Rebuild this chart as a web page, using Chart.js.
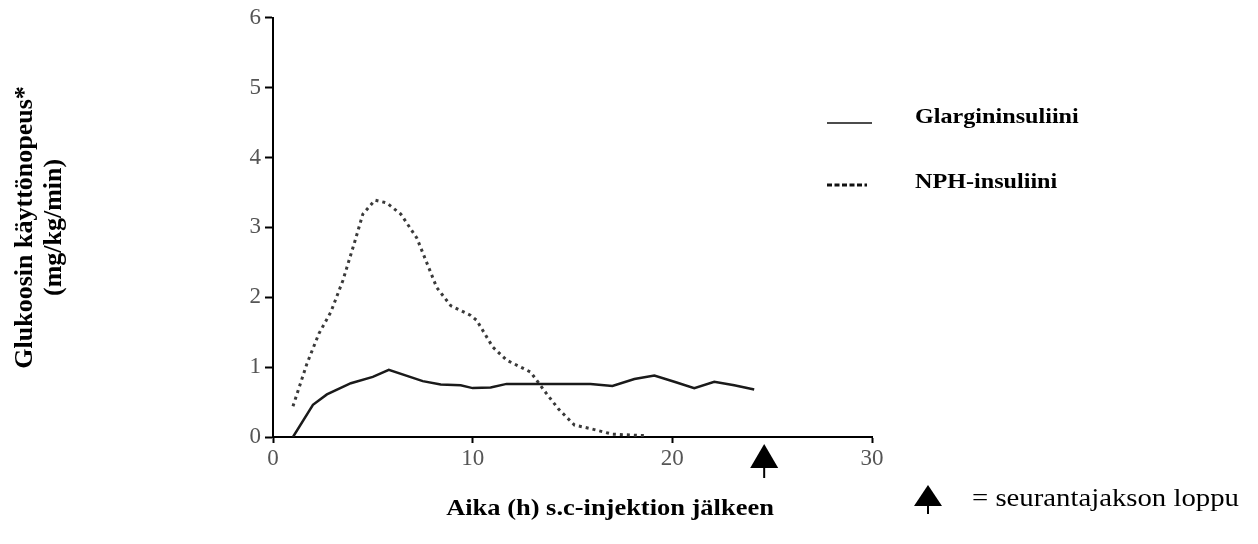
<!DOCTYPE html>
<html lang="fi">
<head>
<meta charset="utf-8">
<title>Glukoosin käyttönopeus</title>
<script src="https://cdn.jsdelivr.net/npm/chart.js@4/dist/chart.umd.min.js"></script>
<style>
    html, body { margin: 0; padding: 0; background: #ffffff; }
    #wrap { position: relative; width: 1258px; height: 544px; }
</style>
</head>
<body>
<div id="wrap"><canvas id="glucoseChart"></canvas></div>
<script>
// Data
const glargineHours = [1, 2, 2.7, 3.9, 5, 5.8, 7.5, 8.4, 9.4, 10, 10.9, 11.7, 13.4, 15.9, 17, 18.1, 19.1, 20.1, 21.1, 22.1, 23.1, 24.1];
const glargineRate = [0, 0.46, 0.61, 0.77, 0.86, 0.96, 0.8, 0.75, 0.74, 0.7, 0.71, 0.76, 0.76, 0.76, 0.73, 0.83, 0.88, 0.79, 0.7, 0.79, 0.74, 0.68];
const nphHours = [1, 1.7, 2.3, 2.9, 3.5, 4.1, 4.5, 5.1, 5.7, 6.4, 7.2, 8.2, 8.9, 9.9, 10.2, 11, 11.7, 12.9, 13.7, 14.3, 15.1, 15.9, 17, 18.6];
const nphRate = [0.44, 1.05, 1.48, 1.79, 2.24, 2.8, 3.19, 3.39, 3.35, 3.19, 2.85, 2.14, 1.88, 1.74, 1.67, 1.29, 1.1, 0.93, 0.62, 0.4, 0.17, 0.12, 0.04, 0.02];
const seriesLabels = ['Glargininsuliini', 'NPH-insuliini'];
const followUpEnd = 24.6;
const xTicks = [0, 10, 20, 30];
const yTicks = [0, 1, 2, 3, 4, 5, 6];

const SERIF = '"Liberation Serif", "Times New Roman", serif';

// horizontally stretched text, like the scanned original
const drawText = (ctx, text, x, y, font, align, sx) => {
    ctx.save();
    ctx.font = font;
    ctx.fillStyle = '#000';
    ctx.textAlign = align;
    ctx.textBaseline = 'middle';
    ctx.translate(x, y);
    ctx.scale(sx, 1);
    ctx.fillText(text, 0, 0);
    ctx.restore();
};

const drawArrow = (ctx, cx, top, h, halfW, stem) => {
    ctx.save();
    ctx.fillStyle = '#000';
    ctx.beginPath();
    ctx.moveTo(cx, top);
    ctx.lineTo(cx + halfW, top + h);
    ctx.lineTo(cx - halfW, top + h);
    ctx.closePath();
    ctx.fill();
    ctx.strokeStyle = '#000';
    ctx.lineWidth = 2;
    ctx.beginPath();
    ctx.moveTo(cx, top + h);
    ctx.lineTo(cx, top + h + stem);
    ctx.stroke();
    ctx.restore();
};

const annotations = {
    id: 'annotations',
    afterDraw(chart) {
        const { ctx, scales: { x } } = chart;
        const sx = 1.15;

        // legend
        ctx.save();
        ctx.strokeStyle = '#111';
        ctx.lineWidth = 1.5;
        ctx.beginPath();
        ctx.moveTo(827, 123);
        ctx.lineTo(872, 123);
        ctx.stroke();
        ctx.lineWidth = 3;
        ctx.setLineDash([5, 2.5]);
        ctx.beginPath();
        ctx.moveTo(827, 185);
        ctx.lineTo(867, 185);
        ctx.stroke();
        ctx.restore();
        drawText(ctx, seriesLabels[0], 915, 118, 'bold 21px ' + SERIF, 'left', sx);
        drawText(ctx, seriesLabels[1], 915, 183, 'bold 21px ' + SERIF, 'left', sx);

        // end of follow-up marker
        drawArrow(ctx, x.getPixelForValue(followUpEnd), 444, 24, 14, 10);

        // x axis title
        drawText(ctx, 'Aika (h) s.c-injektion jälkeen', 610, 509, 'bold 23px ' + SERIF, 'center', sx);

        // note
        drawArrow(ctx, 928, 485, 21, 14, 8);
        drawText(ctx, '= seurantajakson loppu', 972, 499, '25px ' + SERIF, 'left', sx);
    }
};

const ctx = document.getElementById('glucoseChart').getContext('2d');
new Chart(ctx, {
    type: 'line',
    data: {
        datasets: [{
            label: seriesLabels[0],
            data: glargineHours.map((h, i) => ({ x: h, y: glargineRate[i] })),
            borderColor: '#1a1a1a',
            borderWidth: 2.5,
            pointRadius: 0,
            tension: 0
        }, {
            label: seriesLabels[1],
            data: nphHours.map((h, i) => ({ x: h, y: nphRate[i] })),
            borderColor: '#3a3a3a',
            borderWidth: 3,
            borderDash: [3, 4],
            pointRadius: 0,
            tension: 0
        }]
    },
    options: {
        responsive: true,
        maintainAspectRatio: false,
        animation: false,
        layout: {
            padding: { top: 16, right: 386, left: 0, bottom: 0 }
        },
        plugins: {
            legend: { display: false },
            tooltip: { enabled: false }
        },
        scales: {
            x: {
                type: 'linear',
                min: 0,
                max: 30,
                afterFit: (scale) => { scale.height = 107; },
                afterBuildTicks: (scale) => { scale.ticks = xTicks.map(v => ({ value: v })); },
                border: { display: true, color: '#000', width: 2 },
                grid: {
                    drawOnChartArea: false,
                    drawTicks: true,
                    tickLength: 6,
                    tickWidth: 2,
                    tickColor: '#000'
                },
                ticks: {
                    color: '#555',
                    padding: 2,
                    font: { family: SERIF, size: 23 }
                }
            },
            y: {
                min: 0,
                max: 6,
                afterFit: (scale) => { scale.width = 273; },
                afterBuildTicks: (scale) => { scale.ticks = yTicks.map(v => ({ value: v })); },
                border: { display: true, color: '#000', width: 2 },
                grid: {
                    drawOnChartArea: false,
                    drawTicks: true,
                    tickLength: 8,
                    tickWidth: 2,
                    tickColor: '#000'
                },
                ticks: {
                    color: '#555',
                    padding: 4,
                    font: { family: SERIF, size: 23 }
                },
                title: {
                    display: true,
                    text: ['Glukoosin käyttönopeus*', '(mg/kg/min)'],
                    color: '#000',
                    padding: { top: 11, bottom: 0 },
                    font: { family: SERIF, size: 26, weight: 'bold', lineHeight: 1.12 }
                }
            }
        }
    },
    plugins: [annotations]
});
</script>
</body>
</html>
